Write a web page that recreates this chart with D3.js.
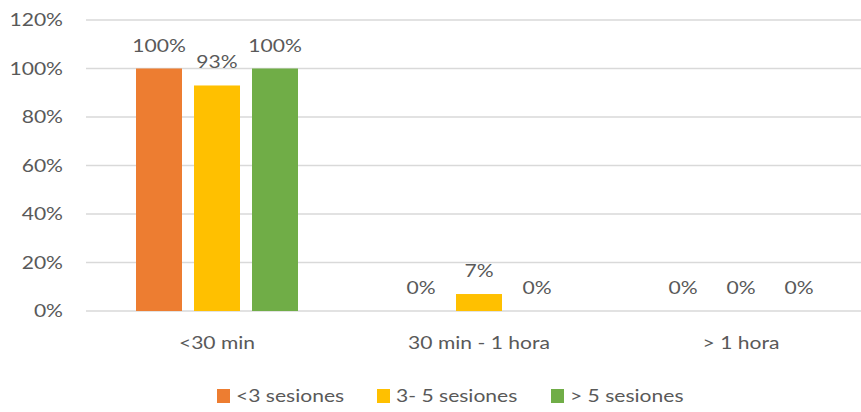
<!DOCTYPE html>
<html><head><meta charset="utf-8">
<script src="https://cdn.jsdelivr.net/npm/d3@7"></script>
<style>body{margin:0;background:#fff}svg{display:block}text{font-family:Lato,"Open Sans",sans-serif;fill:#595959}</style>
</head><body>
<svg id="c" width="861" height="412"></svg>
<script>
const categories = ["<30 min", "30 min - 1 hora", "> 1 hora"];
const seriesNames = ["<3 sesiones", "3- 5 sesiones", "> 5 sesiones"];
const seriesColors = ["#ED7D31", "#FFC000", "#70AD47"];
const valuesLt3 = [100, 0, 0];
const values3to5 = [93, 7, 0];
const valuesGt5 = [100, 0, 0];
const yTicks = [0, 20, 40, 60, 80, 100, 120];

const series = [valuesLt3, values3to5, valuesGt5];
const svg = d3.select("#c");
const m = {left: 86, right: 872, top: 20, bottom: 311};
const x = d3.scaleBand().domain(categories).range([m.left, m.right]).paddingInner(0).paddingOuter(0);
const xs = d3.scaleBand().domain(d3.range(3)).range([50, 262 - 50]).paddingInner(12/58).paddingOuter(0);
const y = d3.scaleLinear().domain([0, 120]).range([m.bottom, m.top]);
const fs = 17;
const sx = 1.24;

function txt(g, px, py, s, anchor) {
  return g.append("text")
    .attr("transform", `translate(${px},${py}) scale(${sx},1)`)
    .attr("text-anchor", anchor || "start")
    .style("font-size", fs + "px")
    .text(s);
}

// gridlines
svg.append("g").selectAll("line").data(yTicks).join("line")
  .attr("x1", m.left).attr("x2", m.right)
  .attr("y1", d => y(d)).attr("y2", d => y(d))
  .attr("stroke", "#d9d9d9").attr("stroke-width", 1.3);

// y axis labels
const ya = svg.append("g");
yTicks.forEach(t => txt(ya, m.left - 23, y(t) + 6, t + "%", "end"));

// bars
series.forEach((vals, si) => {
  const g = svg.append("g");
  g.selectAll("rect").data(vals).join("rect")
    .attr("x", (d, i) => x(categories[i]) + xs(si))
    .attr("width", xs.bandwidth())
    .attr("y", d => y(d))
    .attr("height", d => y(0) - y(d))
    .attr("fill", seriesColors[si]);
  vals.forEach((d, i) => {
    txt(g, x(categories[i]) + xs(si) + xs.bandwidth() / 2, y(d) - 17, d + "%", "middle");
  });
});

// category labels
const cg = svg.append("g");
categories.forEach(c => txt(cg, x(c) + x.bandwidth() / 2, 349, c, "middle"));

// legend
const legX = [217, 377, 551];
const lg = svg.append("g");
seriesNames.forEach((n, i) => {
  lg.append("rect").attr("x", legX[i]).attr("y", 389).attr("width", 13).attr("height", 14).attr("fill", seriesColors[i]);
  txt(lg, legX[i] + 19, 402, n, "start");
});
</script>
</body></html>
